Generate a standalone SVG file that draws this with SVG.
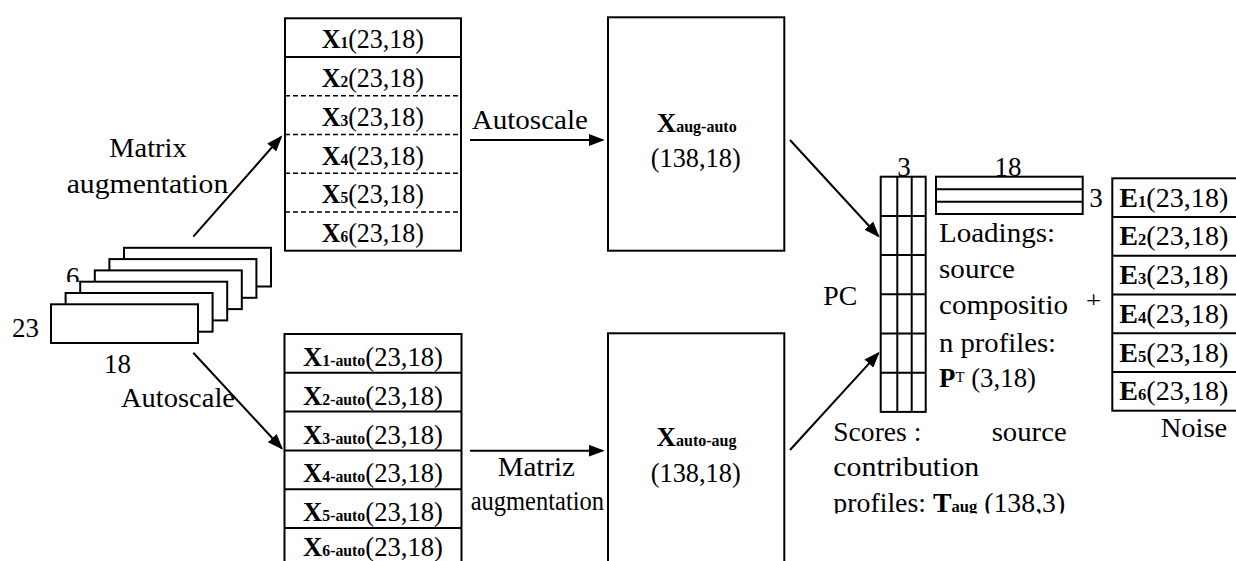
<svg xmlns="http://www.w3.org/2000/svg" width="1236" height="561" viewBox="0 0 1236 561">
  <style>
    .t { font-family: "Liberation Serif", "DejaVu Serif", serif; font-size: 27px; fill: #000; }
    .b { font-weight: bold; }
    .sub { font-size: 16px; font-weight: bold; }
    .sup { font-size: 15px; }
    .box { fill: #fff; stroke: #000; stroke-width: 2; }
    .ln { fill: none; stroke: #000; stroke-width: 2; }
    .dash { fill: none; stroke: #000; stroke-width: 1.5; stroke-dasharray: 5 3; }
    .arr { fill: none; stroke: #000; stroke-width: 2; marker-end: url(#ah); }
  </style>
  <defs>
    <marker id="ah" markerUnits="userSpaceOnUse" markerWidth="17" markerHeight="12" refX="14" refY="6" orient="auto">
      <path d="M0,0 L16,6 L0,12 z" fill="#000"/>
    </marker>
    <clipPath id="clip6"><rect x="0" y="0" width="120" height="282"/></clipPath>
    <clipPath id="clipPlus"><rect x="1080" y="280" width="30" height="25"/></clipPath>
    <clipPath id="clipScores"><rect x="820" y="420" width="270" height="93.5"/></clipPath>
  </defs>

  <!-- stack of six 23x18 data matrices -->
  <g id="stack">
    <rect class="box" x="124" y="247.8" width="147" height="38.7"/>
    <rect class="box" x="109.4" y="259.1" width="147" height="38.7"/>
    <rect class="box" x="94.8" y="270.4" width="147" height="38.7"/>
    <rect class="box" x="80.2" y="281.7" width="147" height="38.7"/>
    <rect class="box" x="65.6" y="293" width="147" height="38.7"/>
    <rect class="box" x="51" y="304.3" width="147" height="38.7"/>
    <text class="t" x="72.7" y="286" text-anchor="middle" clip-path="url(#clip6)">6</text>
    <text class="t" x="25.5" y="337.3" text-anchor="middle">23</text>
    <text class="t" x="117.5" y="372.7" text-anchor="middle">18</text>
  </g>

  <!-- augmented matrix, built before autoscaling -->
  <g id="aug-first">
    <rect class="box" x="285" y="18.3" width="176" height="232.4"/>
    <line class="ln" x1="285" y1="57" x2="461" y2="57"/>
    <line class="dash" x1="285" y1="95.8" x2="461" y2="95.8"/>
    <line class="dash" x1="285" y1="134.5" x2="461" y2="134.5"/>
    <line class="dash" x1="285" y1="173.2" x2="461" y2="173.2"/>
    <line class="dash" x1="285" y1="211.9" x2="461" y2="211.9"/>
    <text class="t" x="321.7" y="48.3" textLength="102.3" lengthAdjust="spacingAndGlyphs"><tspan class="b">X</tspan><tspan class="sub">1</tspan>(23,18)</text>
    <text class="t" x="321.7" y="87" textLength="102.3" lengthAdjust="spacingAndGlyphs"><tspan class="b">X</tspan><tspan class="sub">2</tspan>(23,18)</text>
    <text class="t" x="321.7" y="125.8" textLength="102.3" lengthAdjust="spacingAndGlyphs"><tspan class="b">X</tspan><tspan class="sub">3</tspan>(23,18)</text>
    <text class="t" x="321.7" y="164.5" textLength="102.3" lengthAdjust="spacingAndGlyphs"><tspan class="b">X</tspan><tspan class="sub">4</tspan>(23,18)</text>
    <text class="t" x="321.7" y="203.2" textLength="102.3" lengthAdjust="spacingAndGlyphs"><tspan class="b">X</tspan><tspan class="sub">5</tspan>(23,18)</text>
    <text class="t" x="321.7" y="241.9" textLength="102.3" lengthAdjust="spacingAndGlyphs"><tspan class="b">X</tspan><tspan class="sub">6</tspan>(23,18)</text>
  </g>

  <!-- individually autoscaled matrices -->
  <g id="auto-first">
    <rect class="box" x="284.5" y="334" width="177" height="240"/>
    <line class="ln" x1="284.5" y1="372.8" x2="461.5" y2="372.8"/>
    <line class="ln" x1="284.5" y1="411.6" x2="461.5" y2="411.6"/>
    <line class="ln" x1="284.5" y1="450.4" x2="461.5" y2="450.4"/>
    <line class="ln" x1="284.5" y1="489.2" x2="461.5" y2="489.2"/>
    <line class="ln" x1="284.5" y1="528" x2="461.5" y2="528"/>
    <text class="t" x="303" y="366" textLength="140" lengthAdjust="spacingAndGlyphs"><tspan class="b">X</tspan><tspan class="sub">1-auto</tspan>(23,18)</text>
    <text class="t" x="303" y="404.8" textLength="140" lengthAdjust="spacingAndGlyphs"><tspan class="b">X</tspan><tspan class="sub">2-auto</tspan>(23,18)</text>
    <text class="t" x="303" y="443.6" textLength="140" lengthAdjust="spacingAndGlyphs"><tspan class="b">X</tspan><tspan class="sub">3-auto</tspan>(23,18)</text>
    <text class="t" x="303" y="482.4" textLength="140" lengthAdjust="spacingAndGlyphs"><tspan class="b">X</tspan><tspan class="sub">4-auto</tspan>(23,18)</text>
    <text class="t" x="303" y="521.2" textLength="140" lengthAdjust="spacingAndGlyphs"><tspan class="b">X</tspan><tspan class="sub">5-auto</tspan>(23,18)</text>
    <text class="t" x="303" y="555.5" textLength="140" lengthAdjust="spacingAndGlyphs"><tspan class="b">X</tspan><tspan class="sub">6-auto</tspan>(23,18)</text>
  </g>

  <!-- combined matrices -->
  <g id="x-aug-auto">
    <rect class="box" x="608" y="17.3" width="176.3" height="233.4"/>
    <text class="t" x="656.7" y="131.7" textLength="80" lengthAdjust="spacingAndGlyphs"><tspan class="b">X</tspan><tspan class="sub">aug-auto</tspan></text>
    <text class="t" x="650.7" y="166.7" textLength="90" lengthAdjust="spacingAndGlyphs">(138,18)</text>
  </g>
  <g id="x-auto-aug">
    <rect class="box" x="608" y="333.3" width="176.3" height="240"/>
    <text class="t" x="656.5" y="446" textLength="80" lengthAdjust="spacingAndGlyphs"><tspan class="b">X</tspan><tspan class="sub">auto-aug</tspan></text>
    <text class="t" x="650.7" y="481.7" textLength="90" lengthAdjust="spacingAndGlyphs">(138,18)</text>
  </g>

  <!-- scores matrix T -->
  <g id="scores">
    <rect class="box" x="880.7" y="176.7" width="45" height="235.2"/>
    <line class="ln" x1="897.3" y1="176.7" x2="897.3" y2="411.9"/>
    <line class="ln" x1="911.7" y1="176.7" x2="911.7" y2="411.9"/>
    <line class="ln" x1="880.7" y1="215.9" x2="925.7" y2="215.9"/>
    <line class="ln" x1="880.7" y1="255.1" x2="925.7" y2="255.1"/>
    <line class="ln" x1="880.7" y1="294.3" x2="925.7" y2="294.3"/>
    <line class="ln" x1="880.7" y1="333.5" x2="925.7" y2="333.5"/>
    <line class="ln" x1="880.7" y1="372.7" x2="925.7" y2="372.7"/>
    <text class="t" x="904" y="175.5" text-anchor="middle">3</text>
    <text class="t" x="823.3" y="305" textLength="34" lengthAdjust="spacingAndGlyphs">PC</text>
    <g clip-path="url(#clipScores)">
      <text class="t" x="833.3" y="440.7" textLength="88" lengthAdjust="spacingAndGlyphs">Scores :</text>
      <text class="t" x="991.7" y="440.7" textLength="75" lengthAdjust="spacingAndGlyphs">source</text>
      <text class="t" x="833.3" y="476" textLength="146" lengthAdjust="spacingAndGlyphs">contribution</text>
      <text class="t" x="833.3" y="511.7" textLength="232" lengthAdjust="spacingAndGlyphs">profiles: <tspan class="b">T</tspan><tspan class="sub">aug</tspan> (138,3)</text>
    </g>
  </g>

  <!-- loadings matrix P^T -->
  <g id="loadings">
    <rect class="box" x="936" y="176.7" width="146.7" height="37.3"/>
    <line class="ln" x1="936" y1="189.3" x2="1082.7" y2="189.3"/>
    <line class="ln" x1="936" y1="201.7" x2="1082.7" y2="201.7"/>
    <text class="t" x="1008" y="175.5" text-anchor="middle">18</text>
    <text class="t" x="1096" y="207" text-anchor="middle">3</text>
    <text class="t" x="939" y="241.7" textLength="116" lengthAdjust="spacingAndGlyphs">Loadings:</text>
    <text class="t" x="939" y="278.3" textLength="76" lengthAdjust="spacingAndGlyphs">source</text>
    <text class="t" x="939" y="314" textLength="129" lengthAdjust="spacingAndGlyphs">compositio</text>
    <text class="t" x="939" y="351.7" textLength="117" lengthAdjust="spacingAndGlyphs">n profiles:</text>
    <text class="t" x="939" y="386.7" textLength="97" lengthAdjust="spacingAndGlyphs"><tspan class="b">P</tspan><tspan class="sup" dy="-5">T</tspan><tspan dy="5"> (3,18)</tspan></text>
  </g>

  <g id="plus">
    <text class="t" x="1093.5" y="309.6" text-anchor="middle" font-size="22" clip-path="url(#clipPlus)">+</text>
  </g>

  <!-- residual matrices -->
  <g id="noise">
    <rect class="box" x="1112.3" y="178.3" width="130" height="232.4"/>
    <line class="ln" x1="1112.3" y1="217" x2="1240" y2="217"/>
    <line class="ln" x1="1112.3" y1="255.8" x2="1240" y2="255.8"/>
    <line class="ln" x1="1112.3" y1="294.5" x2="1240" y2="294.5"/>
    <line class="ln" x1="1112.3" y1="333.2" x2="1240" y2="333.2"/>
    <line class="ln" x1="1112.3" y1="372" x2="1240" y2="372"/>
    <text class="t" x="1119.3" y="206.7" textLength="109" lengthAdjust="spacingAndGlyphs"><tspan class="b">E</tspan><tspan class="sub">1</tspan>(23,18)</text>
    <text class="t" x="1119.3" y="245.4" textLength="109" lengthAdjust="spacingAndGlyphs"><tspan class="b">E</tspan><tspan class="sub">2</tspan>(23,18)</text>
    <text class="t" x="1119.3" y="284.2" textLength="109" lengthAdjust="spacingAndGlyphs"><tspan class="b">E</tspan><tspan class="sub">3</tspan>(23,18)</text>
    <text class="t" x="1119.3" y="322.9" textLength="109" lengthAdjust="spacingAndGlyphs"><tspan class="b">E</tspan><tspan class="sub">4</tspan>(23,18)</text>
    <text class="t" x="1119.3" y="361.6" textLength="109" lengthAdjust="spacingAndGlyphs"><tspan class="b">E</tspan><tspan class="sub">5</tspan>(23,18)</text>
    <text class="t" x="1119.3" y="400.4" textLength="109" lengthAdjust="spacingAndGlyphs"><tspan class="b">E</tspan><tspan class="sub">6</tspan>(23,18)</text>
    <text class="t" x="1160.7" y="436.7" textLength="66.6" lengthAdjust="spacingAndGlyphs">Noise</text>
  </g>

  <!-- connectors -->
  <g id="connectors">
    <line class="arr" x1="193.3" y1="236.7" x2="281" y2="137"/>
    <line class="arr" x1="193.3" y1="352.7" x2="281.7" y2="448.3"/>
    <line class="arr" x1="470" y1="140" x2="602.7" y2="140"/>
    <line class="arr" x1="470" y1="450.7" x2="602.7" y2="450.7"/>
    <line class="arr" x1="790" y1="140" x2="878.3" y2="236"/>
    <line class="arr" x1="790" y1="450" x2="878.3" y2="353.3"/>
    <text class="t" x="109.3" y="156.7" textLength="77.4" lengthAdjust="spacingAndGlyphs">Matrix</text>
    <text class="t" x="66.7" y="193.3" textLength="161.6" lengthAdjust="spacingAndGlyphs">augmentation</text>
    <text class="t" x="121" y="406.7" textLength="114" lengthAdjust="spacingAndGlyphs">Autoscale</text>
    <text class="t" x="471.7" y="129" textLength="116.3" lengthAdjust="spacingAndGlyphs">Autoscale</text>
    <text class="t" x="497.7" y="476" textLength="77.3" lengthAdjust="spacingAndGlyphs">Matriz</text>
    <text class="t" x="470.7" y="510" textLength="133.3" lengthAdjust="spacingAndGlyphs">augmentation</text>
  </g>
</svg>
